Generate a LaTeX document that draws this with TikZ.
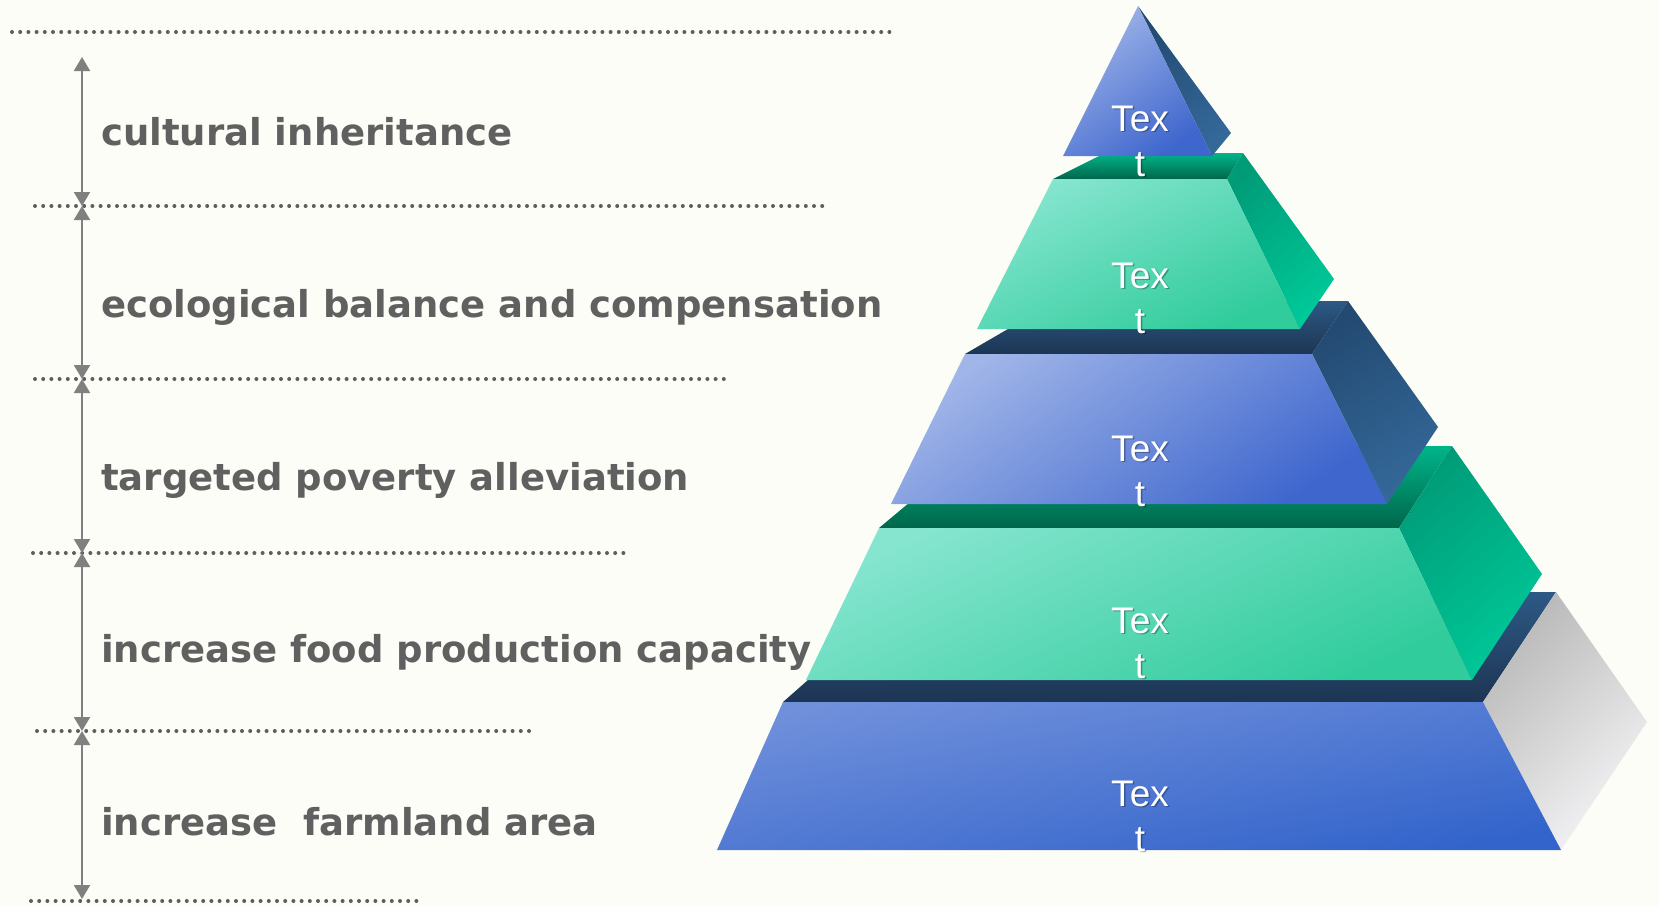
\documentclass[tikz,border=0pt]{standalone}
\usepackage{fontspec}
\setmainfont{DejaVu Sans}
\newfontfamily\tierfont{Liberation Sans}
\usetikzlibrary{arrows.meta}

\definecolor{paper}{HTML}{FCFDF6}
\definecolor{dotgray}{HTML}{5E5E5E}
\definecolor{arrowgray}{HTML}{808080}
\definecolor{goalgray}{HTML}{606060}

\tikzset{
  dotline/.style={draw=dotgray, line width=4pt, line cap=round, dash pattern=on 0pt off 8.2pt},
  dimarrow/.style={draw=arrowgray, line width=2pt, {Triangle[width=16pt,length=14pt]}-{Triangle[width=16pt,length=14pt]}},
  goal/.style={anchor=base west, inner sep=0pt, text=goalgray, font=\bfseries\fontsize{37}{44}\selectfont},
  tiertext/.style={text=white, align=center, inner sep=0pt, font=\tierfont\fontsize{37}{45}\selectfont},
  tiershadow/.style={tiertext, text=black, opacity=0.3},
  bluefront/.style={top color={rgb,255:red,160;green,181;blue,232}, bottom color={rgb,255:red,62;green,102;blue,205}, shading angle=35},
  basefront/.style={top color={rgb,255:red,112;green,144;blue,219}, bottom color={rgb,255:red,51;green,100;blue,203}, shading angle=10},
  navytop/.style={top color={rgb,255:red,45;green,89;blue,133}, bottom color={rgb,255:red,29;green,53;blue,83}},
  blueside/.style={top color={rgb,255:red,35;green,74;blue,114}, bottom color={rgb,255:red,52;green,104;blue,153}, shading angle=30},
  greenfront/.style={top color={rgb,255:red,134;green,229;blue,207}, bottom color={rgb,255:red,48;green,204;blue,156}, shading angle=25},
  greentop/.style={top color={rgb,255:red,0;green,181;blue,138}, bottom color={rgb,255:red,0;green,102;blue,75}},
  greenside/.style={top color={rgb,255:red,0;green,156;blue,120}, bottom color={rgb,255:red,0;green,200;blue,152}, shading angle=40},
  greyside/.style={top color={rgb,255:red,184;green,184;blue,184}, bottom color={rgb,255:red,244;green,244;blue,246}, shading angle=45}
}

\begin{document}
\begin{tikzpicture}[x=1pt,y=-1pt]
  \fill[paper] (0,0) rectangle (1659,906);
  % guide lines
  \coordinate (g0l) at (12,32);   \coordinate (g0r) at (892,32);
  \coordinate (g1l) at (35,206);  \coordinate (g1r) at (824,206);
  \coordinate (g2l) at (35,379);  \coordinate (g2r) at (724,379);
  \coordinate (g3l) at (33,553);  \coordinate (g3r) at (624,553);
  \coordinate (g4l) at (37,731);  \coordinate (g4r) at (536,731);
  \coordinate (g5l) at (31,901);  \coordinate (g5r) at (423,901);
  \draw[dotline] (g0l) -- (g0r);
  \draw[dotline] (g1l) -- (g1r);
  \draw[dotline] (g2l) -- (g2r);
  \draw[dotline] (g3l) -- (g3r);
  \draw[dotline] (g4l) -- (g4r);
  \draw[dotline] (g5l) -- (g5r);
  % arrows between the lines
  \coordinate (tick0) at (82,57);
  \coordinate (tick1) at (82,206);
  \coordinate (tick2) at (82,379);
  \coordinate (tick3) at (82,553);
  \coordinate (tick4) at (82,731);
  \coordinate (tick5) at (82,899);
  \draw[dimarrow] (tick0) -- (tick1);
  \draw[dimarrow] (tick1) -- (tick2);
  \draw[dimarrow] (tick2) -- (tick3);
  \draw[dimarrow] (tick3) -- (tick4);
  \draw[dimarrow] (tick4) -- (tick5);
  \node[goal] at (101,145) (culture) {cultural inheritance};
  \node[goal] at (101,317) (ecology) {ecological balance and compensation};
  \node[goal] at (101,490) (poverty) {targeted poverty alleviation};
  \node[goal] at (101,662) (food) {increase food production capacity};
  \node[goal] at (101,835) (farmland) {increase~~farmland area};
  % tier 5
  \path[navytop] (783,702) -- (1483,702) -- (1556,592) -- (908,592) -- cycle;
  \path[greyside] (1483,702) -- (1556,592) -- (1647,722) -- (1561,850) -- cycle;
  \path[basefront] (717,850) -- (1561,850) -- (1483,702) -- (783,702) -- cycle;
  \node[tiershadow] at (1141.5,817.5) (tier5s) {Tex\\t};
  \node[tiertext] at (1140,816) (tier5) {Tex\\t};
  % tier 4
  \path[greentop] (879,528) -- (1399,528) -- (1452,446) -- (977,446) -- cycle;
  \path[greenside] (1399,528) -- (1452,446) -- (1542,574) -- (1472,680) -- cycle;
  \path[greenfront] (806,680) -- (1472,680) -- (1399,528) -- (879,528) -- cycle;
  \node[tiershadow] at (1141.5,644.5) (tier4s) {Tex\\t};
  \node[tiertext] at (1140,643) (tier4) {Tex\\t};
  % tier 3
  \path[navytop] (965,354) -- (1312,354) -- (1348,301) -- (1056,301) -- cycle;
  \path[blueside] (1312,354) -- (1348,301) -- (1438,427) -- (1387,504) -- cycle;
  \path[bluefront] (891,504) -- (1387,504) -- (1312,354) -- (965,354) -- cycle;
  \node[tiershadow] at (1141.5,472.5) (tier3s) {Tex\\t};
  \node[tiertext] at (1140,471) (tier3) {Tex\\t};
  % tier 2
  \path[greentop] (1053,179) -- (1227,179) -- (1243,153) -- (1105,153) -- cycle;
  \path[greenside] (1227,179) -- (1243,153) -- (1334,279) -- (1300,329) -- cycle;
  \path[greenfront] (977,329) -- (1300,329) -- (1227,179) -- (1053,179) -- cycle;
  \node[tiershadow] at (1141.5,299.5) (tier2s) {Tex\\t};
  \node[tiertext] at (1140,298) (tier2) {Tex\\t};
  % tier 1
  \path[blueside] (1138,6) -- (1231,133) -- (1212,156) -- cycle;
  \path[bluefront] (1063,156) -- (1212,156) -- (1138,6) -- cycle;
  \node[tiershadow] at (1141.5,142.5) (tier1s) {Tex\\t};
  \node[tiertext] at (1140,141) (tier1) {Tex\\t};
\end{tikzpicture}
\end{document}
